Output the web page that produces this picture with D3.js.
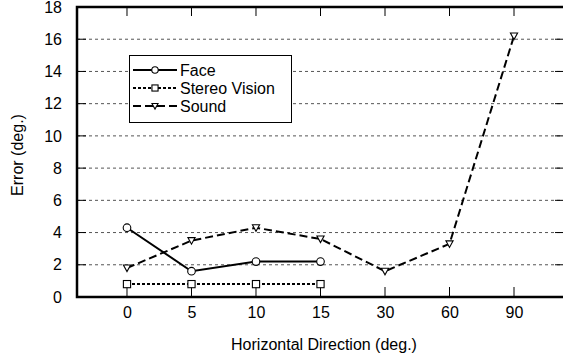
<!DOCTYPE html>
<html><head><meta charset="utf-8">
<script src="https://cdn.jsdelivr.net/npm/d3@7/dist/d3.min.js"></script>
<style>body{margin:0;background:#fff}svg{display:block;font-family:"Liberation Sans",Arial,sans-serif}</style>
</head><body>
<script>
const categories = ["0","5","10","15","30","60","90"];
const faceValues = [4.3, 1.6, 2.2, 2.2];
const stereoValues = [0.8, 0.8, 0.8, 0.8];
const soundValues = [1.8, 3.5, 4.3, 3.6, 1.6, 3.3, 16.2];
const yTicks = [0,2,4,6,8,10,12,14,16,18];
const seriesNames = ["Face","Stereo Vision","Sound"];

const W = 563, H = 358;
const L = 77, R = 564, T = 7, B = 297;
const FS = 16;
const svg = d3.select("body").append("svg").attr("width", W).attr("height", H);

const x = d3.scalePoint().domain(categories).range([L, R]).padding(0.775);
const y = d3.scaleLinear().domain([0, 18]).range([B, T]);

// grid
svg.append("g").selectAll("line").data(yTicks.filter(d => d > 0 && d < 18)).join("line")
  .attr("x1", L).attr("x2", R).attr("y1", d => y(d)).attr("y2", d => y(d))
  .attr("stroke", "#555").attr("stroke-width", 1).attr("stroke-dasharray", "3,3");

// axes
const yAxisL = d3.axisLeft(y).tickValues(yTicks).tickSize(0).tickPadding(15);
const gy = svg.append("g").attr("transform", `translate(${L},0)`).call(yAxisL);
gy.select(".domain").remove();
gy.selectAll("text").attr("font-size", FS).attr("fill", "#000").attr("font-family", "Liberation Sans, Arial, sans-serif");

const xAxisB = d3.axisBottom(x).tickSize(0).tickPadding(10);
const gx = svg.append("g").attr("transform", `translate(0,${B})`).call(xAxisB);
gx.select(".domain").remove();
gx.selectAll("text").attr("font-size", FS).attr("fill", "#000").attr("font-family", "Liberation Sans, Arial, sans-serif");

// inward ticks
const tk = svg.append("g").attr("stroke", "#000").attr("stroke-width", 1);
tk.selectAll(".bt").data(categories).join("line").attr("class","bt")
  .attr("x1", d => x(d)).attr("x2", d => x(d)).attr("y1", B).attr("y2", B - 10);
tk.selectAll(".tt").data(categories).join("line").attr("class","tt")
  .attr("x1", d => x(d)).attr("x2", d => x(d)).attr("y1", T).attr("y2", T + 9);
tk.selectAll(".lt").data(yTicks.filter(d => d > 0 && d < 18)).join("line").attr("class","lt")
  .attr("x1", L).attr("x2", L + 9).attr("y1", d => y(d)).attr("y2", d => y(d));
tk.selectAll(".rt").data(yTicks.filter(d => d > 0 && d < 18)).join("line").attr("class","rt")
  .attr("x1", R - 9).attr("x2", R).attr("y1", d => y(d)).attr("y2", d => y(d));

// frame
svg.append("path").attr("d", `M${R},${T}H${L}V${B}H${R}`)
  .attr("fill", "none").attr("stroke", "#000").attr("stroke-width", 2.5);

// series
const line = d3.line().x((d, i) => x(categories[i])).y(d => y(d));
const styles = [
  {vals: faceValues, dash: null},
  {vals: stereoValues, dash: "3,2"},
  {vals: soundValues, dash: "8,4"}
];
styles.forEach(s => {
  svg.append("path").datum(s.vals).attr("d", line).attr("fill", "none")
    .attr("stroke", "#000").attr("stroke-width", 2).attr("stroke-dasharray", s.dash);
});

function marker(g, kind, cx, cy, sc) {
  sc = sc || 1;
  if (kind === 0) g.append("circle").attr("cx", cx).attr("cy", cy).attr("r", 3.8 * sc).attr("fill", "#fff").attr("stroke", "#000").attr("stroke-width", 1.1);
  else if (kind === 1) g.append("rect").attr("x", cx - 3.6 * sc).attr("y", cy - 3.6 * sc).attr("width", 7.2 * sc).attr("height", 7.2 * sc).attr("fill", "#fff").attr("stroke", "#000").attr("stroke-width", 1.1);
  else g.append("path").attr("d", `M${-3.6*sc},${-3*sc}L${3.6*sc},${-3*sc}L0,${3.6*sc}Z`).attr("transform", `translate(${cx},${cy})`).attr("fill", "#fff").attr("stroke", "#000").attr("stroke-width", 1.1);
}
const mg = svg.append("g");
styles.forEach((s, k) => s.vals.forEach((v, i) => marker(mg, k, x(categories[i]), y(v))));

// legend
const lg = svg.append("g");
lg.append("rect").attr("x", 129.5).attr("y", 55.5).attr("width", 162).attr("height", 67)
  .attr("fill", "#fff").attr("stroke", "#000").attr("stroke-width", 1);
const rowsY = [70, 88, 106];
seriesNames.forEach((n, k) => {
  lg.append("line").attr("x1", 133).attr("x2", 177).attr("y1", rowsY[k]).attr("y2", rowsY[k])
    .attr("stroke", "#000").attr("stroke-width", 2).attr("stroke-dasharray", styles[k].dash);
  marker(lg, k, 155, rowsY[k], 0.85);
  lg.append("text").attr("x", 180).attr("y", rowsY[k]).attr("dy", "0.35em")
    .attr("font-size", FS).text(n);
});

// titles
svg.append("text").attr("x", 324).attr("y", 350).attr("text-anchor", "middle").attr("font-size", FS).text("Horizontal Direction (deg.)");
svg.append("text").attr("transform", "translate(17,155) rotate(-90)").attr("text-anchor", "middle")
  .attr("dy", "0.35em").attr("font-size", FS).text("Error (deg.)");
</script>
</body></html>
